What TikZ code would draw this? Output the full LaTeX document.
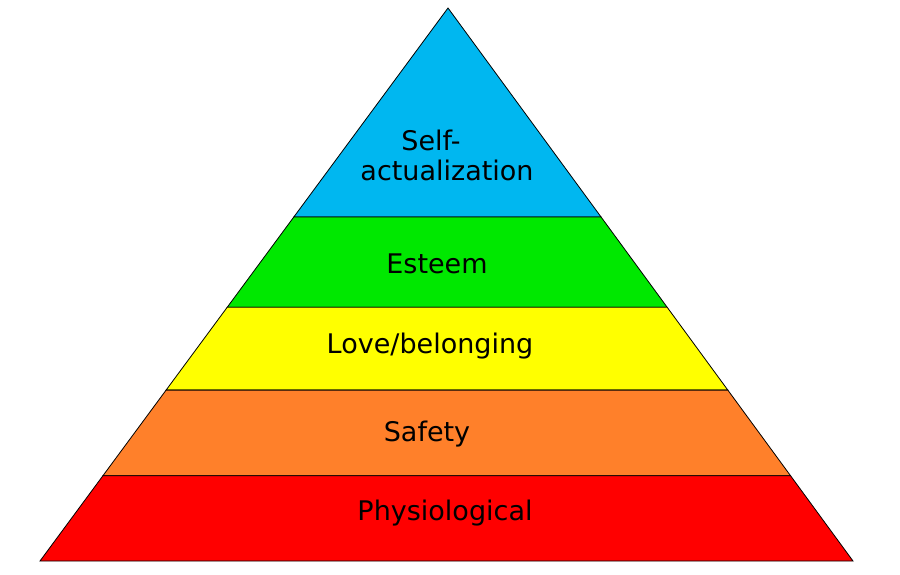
\documentclass[tikz,border=0pt]{standalone}
\usepackage{fontspec}
\setmainfont{DejaVu Sans}
\usetikzlibrary{calc}
\definecolor{cblue}{RGB}{0,183,240}
\definecolor{cgreen}{RGB}{0,232,0}
\definecolor{cyellow}{RGB}{255,255,0}
\definecolor{corange}{RGB}{255,128,42}
\definecolor{cred}{RGB}{255,0,0}
\tikzset{layer/.style={draw=black,line width=0.8pt,line join=miter},
lbl/.style={font=\fontsize{27}{30}\selectfont,align=center,inner sep=0pt}}
\begin{document}
\begin{tikzpicture}[x=1pt,y=-1pt]
\useasboundingbox (0,0) rectangle (900,574);
\fill[white] (0,0) rectangle (900,574);
\coordinate (A) at (448,8);
\coordinate (L) at (40,561);
\coordinate (R) at (853,561);
\foreach \n/\t in {1/0.378,2/0.541,3/0.691,4/0.846}{
 \coordinate (L\n) at ($(A)!\t!(L)$);
 \coordinate (R\n) at ($(A)!\t!(R)$);
}
\filldraw[layer,fill=cblue] (A) -- (R1) -- (L1) -- cycle;
\filldraw[layer,fill=cgreen] (L1) -- (R1) -- (R2) -- (L2) -- cycle;
\filldraw[layer,fill=cyellow] (L2) -- (R2) -- (R3) -- (L3) -- cycle;
\filldraw[layer,fill=corange] (L3) -- (R3) -- (R4) -- (L4) -- cycle;
\filldraw[layer,fill=cred] (L4) -- (R4) -- (R) -- (L) -- cycle;
\node[lbl] (self) at (447,155) {\hspace*{-32pt}Self-\\actualization};
\node[lbl] (esteem) at (437,264) {Esteem};
\node[lbl] (love) at (430,346) {Love/belonging};
\node[lbl] (safety) at (427,434) {Safety};
\node[lbl] (phys) at (445,513) {Physiological};
\end{tikzpicture}
\end{document}
